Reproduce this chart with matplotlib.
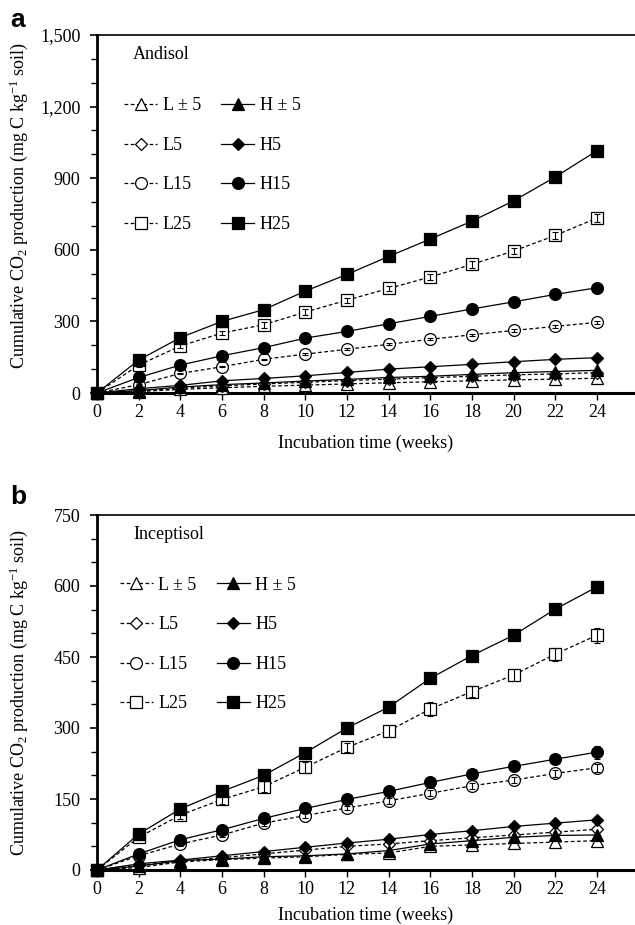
import matplotlib
matplotlib.use("Agg")
import matplotlib.pyplot as plt
from matplotlib.ticker import FuncFormatter, MultipleLocator
import numpy as np

plt.rcParams['font.family'] = ['Liberation Serif', 'DejaVu Serif']
plt.rcParams['mathtext.fontset'] = 'custom'
plt.rcParams['mathtext.rm'] = 'Liberation Serif'
plt.rcParams['mathtext.it'] = 'Liberation Serif:italic'
plt.rcParams['mathtext.bf'] = 'Liberation Serif:bold'

weeks = [0, 2, 4, 6, 8, 10, 12, 14, 16, 18, 20, 22, 24]
labels = ["L ± 5", "L5", "L15", "L25", "H ± 5", "H5", "H15", "H25"]

# Panel a: Andisol
andisol = {
    "L ± 5": [0, 6, 15, 22, 28, 33, 38, 43, 47, 51, 55, 58, 62],
    "L5":  [0, 8, 20, 30, 38, 45, 52, 58, 64, 70, 76, 80, 85],
    "L15": [0, 35, 82, 110, 141, 163, 183, 204, 225, 244, 262, 279, 296],
    "L25": [0, 117, 197, 251, 286, 339, 389, 438, 486, 539, 595, 660, 733],
    "H ± 5": [0, 10, 25, 35, 42, 50, 57, 65, 70, 78, 85, 90, 95],
    "H5":  [0, 18, 32, 51, 61, 72, 86, 100, 110, 120, 131, 141, 148],
    "H15": [0, 65, 117, 156, 190, 230, 258, 290, 321, 352, 382, 413, 441],
    "H25": [0, 138, 232, 300, 349, 427, 497, 572, 645, 720, 805, 905, 1015],
}
andisol_err = {
    "L25": [0, 8, 10, 10, 12, 12, 10, 12, 12, 14, 14, 16, 18],
    "L15": [0, 3, 3, 3, 3, 4, 4, 4, 4, 4, 5, 5, 6],
}

# Panel b: Inceptisol
inceptisol = {
    "L ± 5": [0, 5, 17, 22, 25, 28, 33, 36, 50, 53, 56, 59, 62],
    "L5":  [0, 10, 18, 26, 34, 42, 50, 55, 62, 68, 74, 80, 86],
    "L15": [0, 30, 55, 74, 99, 115, 131, 146, 162, 178, 190, 204, 216],
    "L25": [0, 69, 116, 149, 176, 217, 259, 294, 340, 377, 412, 456, 496],
    "H ± 5": [0, 8, 20, 23, 28, 30, 34, 41, 55, 62, 69, 73, 74],
    "H5":  [0, 13, 21, 30, 39, 48, 57, 65, 75, 83, 92, 99, 106],
    "H15": [0, 34, 64, 85, 109, 130, 149, 166, 185, 203, 219, 234, 249],
    "H25": [0, 76, 129, 166, 200, 248, 300, 344, 405, 453, 496, 551, 598],
}
inceptisol_err = {
    "L25": [0, 5, 8, 10, 12, 12, 10, 12, 14, 12, 12, 14, 16],
    "L15": [0, 3, 4, 4, 5, 5, 5, 6, 6, 6, 7, 7, 8],
    "H25": [0, 3, 4, 4, 5, 5, 5, 6, 6, 6, 7, 8, 12],
    "H15": [0, 3, 3, 4, 4, 5, 5, 5, 6, 8, 10, 10, 14],
}

markers = {"L ± 5": "^", "L5": "D", "L15": "o", "L25": "s",
           "H ± 5": "^", "H5": "D", "H15": "o", "H25": "s"}
msizes = {"^": 8.5, "D": 6.5, "o": 8.5, "s": 8.8}

W, H = 635, 925
fig = plt.figure(figsize=(W / 100, H / 100), dpi=100)

def px_axes(left, top, right, bottom):
    return fig.add_axes([left / W, 1 - bottom / H, (right - left) / W, (bottom - top) / H])

ax_a = px_axes(97, 35, 635, 393)
ax_b = px_axes(97, 515, 635, 870)

def draw(ax, data, err, ymax, major, minor, soil, ylabel_y, leg_x, xlabelpad):
    handles = []
    for lab in labels:
        is_low = lab.startswith("L")
        mk = markers[lab]
        ln, = ax.plot(weeks, data[lab], color="black", lw=0.9,
                      linestyle=(0, (3, 2)) if is_low else "-",
                      marker=mk, markersize=msizes[mk],
                      markerfacecolor="white" if is_low else "black",
                      markeredgecolor="black", markeredgewidth=0.9,
                      clip_on=False, zorder=3 if is_low else 4, label=lab)
        handles.append(ln)
    for lab, e in err.items():
        ax.errorbar(weeks, data[lab], yerr=e, fmt="none", ecolor="black",
                    elinewidth=0.8, capsize=2.2, capthick=0.8, zorder=5, clip_on=False)
    ax.set_xlim(0, 25.83)
    ax.set_ylim(0, ymax)
    ax.set_xticks(np.arange(0, 25, 2))
    ax.yaxis.set_major_locator(MultipleLocator(major))
    ax.yaxis.set_minor_locator(MultipleLocator(minor))
    ax.yaxis.set_major_formatter(FuncFormatter(lambda v, p: f"{v:,.0f}"))
    ax.tick_params(axis="y", which="major", direction="out", length=5, width=1.2,
                   labelsize=13, pad=7)
    ax.tick_params(axis="y", which="minor", direction="out", length=4, width=1.0)
    ax.tick_params(axis="x", which="major", direction="out", length=5, width=1.0,
                   labelsize=13, pad=3)
    ax.spines["right"].set_visible(False)
    ax.spines["left"].set_linewidth(2.0)
    ax.spines["bottom"].set_linewidth(2.2)
    ax.spines["top"].set_linewidth(1.2)
    ax.set_xlabel("Incubation time (weeks)", fontsize=13, labelpad=xlabelpad)
    ax.set_ylabel(r"Cumulative CO$_2$ production (mg C kg$^{-1}$ soil)", fontsize=13)
    ax.yaxis.set_label_coords(-0.125, ylabel_y)
    ax.text(0.067, 0.945, soil, transform=ax.transAxes, fontsize=13,
            ha="left", va="center")
    ax.legend(handles=handles, ncol=2, loc="upper left",
              bbox_to_anchor=(leg_x, 0.826), frameon=False, fontsize=13,
              handlelength=1.85, handletextpad=0.3, columnspacing=1.1,
              labelspacing=1.25, borderpad=0, borderaxespad=0, numpoints=1)

draw(ax_a, andisol, andisol_err, 1500, 300, 100, "Andisol", 0.525, 0.05, 10.0)
draw(ax_b, inceptisol, inceptisol_err, 750, 150, 50, "Inceptisol", 0.5, 0.042, 6.0)

fig.text(18 / W, 1 - 20 / H, "a", fontsize=19, fontweight="bold",
         family="Liberation Sans", ha="center", va="center")
fig.text(18 / W, 1 - 497 / H, "b", fontsize=19, fontweight="bold",
         family="Liberation Sans", ha="center", va="center")

fig.savefig("out.png", dpi=100)
